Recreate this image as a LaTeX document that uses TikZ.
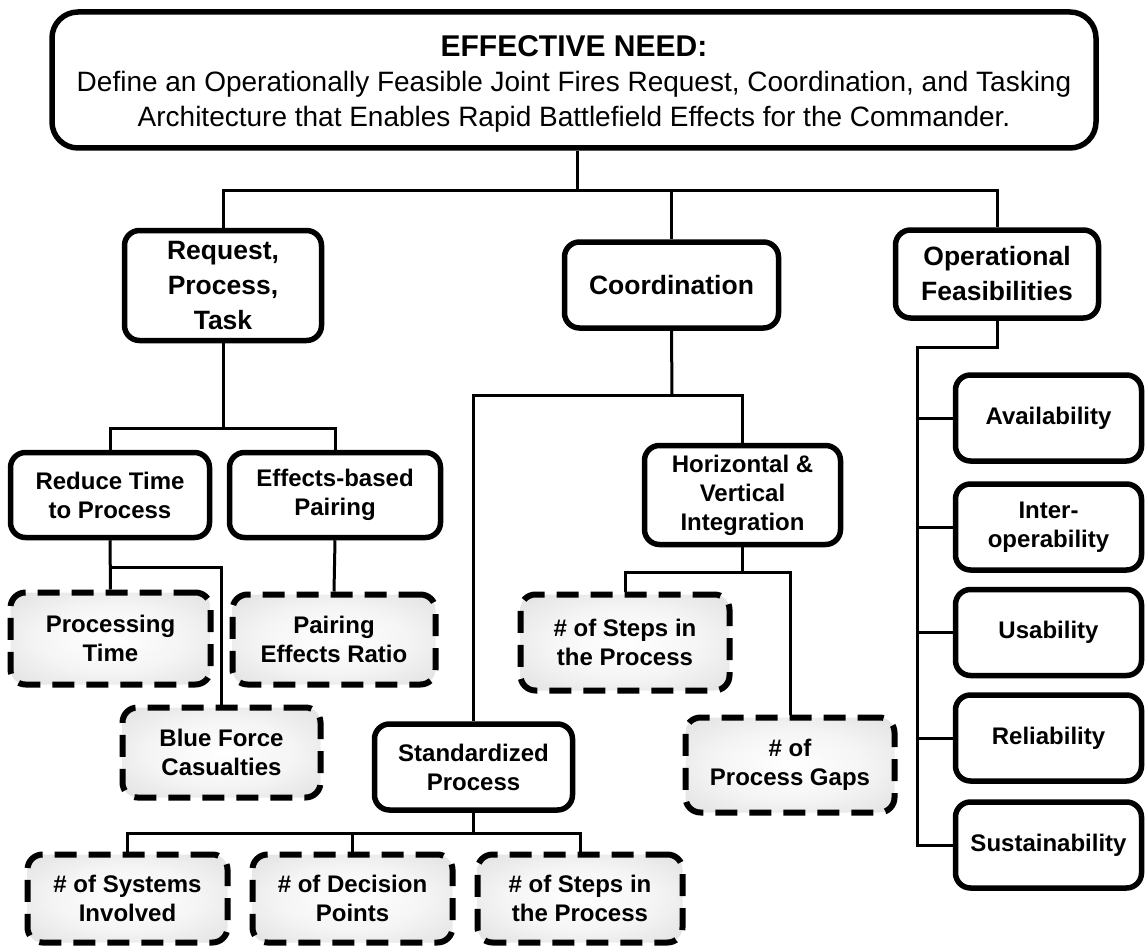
\documentclass[tikz,border=0pt]{standalone}
\usepackage{fontspec}
\setmainfont{Liberation Sans}
\usetikzlibrary{calc}

% soft white-to-grey glow for the measure boxes
\pgfdeclareradialshading{softglow}{\pgfpoint{0bp}{0bp}}{%
  color(0bp)=(white); color(18bp)=(white!96!black); color(50bp)=(black!18); color(72bp)=(black!21)}

\tikzset{
  boxbase/.style={draw=black, line width=5.5pt, rounded corners=15pt, align=center,
    inner sep=0pt, font=\bfseries\fontsize{24}{29}\selectfont},
  solidbox/.style={boxbase, fill=white},
  levelbox/.style={solidbox, font=\bfseries\fontsize{26.5}{35}\selectfont},
  measurebox/.style={boxbase, line width=6pt, shading=softglow, dash pattern=on 22pt off 12pt},
  needbox/.style={draw=black, line width=5.5pt, rounded corners=26pt, fill=white},
  needtext/.style={align=center, inner sep=0pt, font=\fontsize{28}{35}\selectfont},
  link/.style={draw=black, line width=3pt},
}

\begin{document}
\begin{tikzpicture}[x=1pt, y=-1pt]
\useasboundingbox (0,0) rectangle (1146,947);

% top-level need
\node[needbox, minimum width=1044pt, minimum height=136pt] (need) at (574,80) {};
\node[needtext] (needtxt) at (574,84)
  {{\bfseries\fontsize{30}{35}\selectfont EFFECTIVE NEED:}\\
   Define an Operationally Feasible Joint Fires Request, Coordination, and Tasking\\
   Architecture that Enables Rapid Battlefield Effects for the Commander.};

% first level
\node[levelbox, minimum width=197pt, minimum height=110pt] (rpt) at (223,285.5) {Request,\\Process,\\Task};
\node[levelbox, minimum width=214pt, minimum height=86pt] (coord) at (671.5,285) {Coordination};
\node[levelbox, minimum width=203pt, minimum height=88pt] (opf) at (997,274) {Operational\\Feasibilities};

% request, process, task branch
\node[solidbox, minimum width=199pt, minimum height=85pt] (rtp) at (110,495) {Reduce Time\\to Process};
\node[solidbox, minimum width=211pt, minimum height=85pt] (ebp) at (335,495) {Effects-based\\Pairing};
\node[measurebox, minimum width=200pt, minimum height=92pt] (ptime) at (110.5,638.5) {Processing\\Time};
\node[measurebox, minimum width=203pt, minimum height=90pt] (per) at (334,639.5) {Pairing\\Effects Ratio};
\node[measurebox, minimum width=198pt, minimum height=90pt] (bfc) at (221.5,752.5) {Blue Force\\Casualties};

% coordination branch
\node[solidbox, minimum width=196pt, minimum height=99pt] (hvi) at (742.5,495) {Horizontal \&\\Vertical\\Integration};
\node[measurebox, minimum width=209pt, minimum height=96pt] (stepsA) at (625,642.5) {\# of Steps in\\the Process};
\node[measurebox, minimum width=209pt, minimum height=95pt] (gaps) at (790,765) {\# of\\Process Gaps};
\node[solidbox, minimum width=198pt, minimum height=86pt] (std) at (473.5,767) {Standardized\\Process};
\node[measurebox, minimum width=200pt, minimum height=88pt] (sys) at (127.5,898.5) {\# of Systems\\Involved};
\node[measurebox, minimum width=200pt, minimum height=88pt] (dec) at (352.5,898.5) {\# of Decision\\Points};
\node[measurebox, minimum width=205pt, minimum height=88pt] (stepsB) at (580,898.5) {\# of Steps in\\the Process};

% operational feasibilities branch
\node[solidbox, minimum width=186pt, minimum height=86pt] (avail) at (1048.5,418) {Availability};
\node[solidbox, minimum width=186pt, minimum height=86pt] (inter) at (1048.5,527) {Inter-\\operability};
\node[solidbox, minimum width=186pt, minimum height=86pt] (usab) at (1048.5,632.5) {Usability};
\node[solidbox, minimum width=186pt, minimum height=86pt] (relia) at (1048.5,738) {Reliability};
\node[solidbox, minimum width=186pt, minimum height=86pt] (sust) at (1048.5,845) {Sustainability};

% junction points
\coordinate (jTop) at (577,190);
\coordinate (jRpt) at (223,428);
\coordinate (jRtp) at (110,567);
\coordinate (jCoord) at (672,395);
\coordinate (jHvi) at (742.5,572);
\coordinate (jStd) at (473.5,833);
\coordinate (jOpf) at (997,347);
\coordinate (spine) at (917,347);

% need to first level
\draw[link] (need.south -| jTop) -- (jTop);
\draw[link] (rpt.north) |- (jTop) -| (opf.north);
\draw[link] (coord.north) -- (coord.north |- jTop);

% request, process, task
\draw[link] (rpt.south) -- (jRpt);
\draw[link] (rtp.north) |- (jRpt) -| (ebp.north);
\draw[link] (rtp.south) -- (ptime.north);
\draw[link] (jRtp) -| (bfc.north);
\draw[link] (ebp.south) -- (per.north);

% coordination
\draw[link] (coord.south) -- (jCoord);
\draw[link] (std.north) |- (jCoord) -| (hvi.north);
\draw[link] (hvi.south) -- (jHvi);
\draw[link] (stepsA.north) |- (jHvi) -| (gaps.north);
\draw[link] (std.south) -- (jStd);
\draw[link] (sys.north) |- (jStd) -| (stepsB.north);
\draw[link] (dec.north) -- (dec.north |- jStd);

% operational feasibilities
\draw[link] (opf.south) -- (jOpf) -- (spine) -- (spine |- sust.west) -- (sust.west);
\draw[link] (spine |- avail.west) -- (avail.west);
\draw[link] (spine |- inter.west) -- (inter.west);
\draw[link] (spine |- usab.west) -- (usab.west);
\draw[link] (spine |- relia.west) -- (relia.west);
\end{tikzpicture}
\end{document}
